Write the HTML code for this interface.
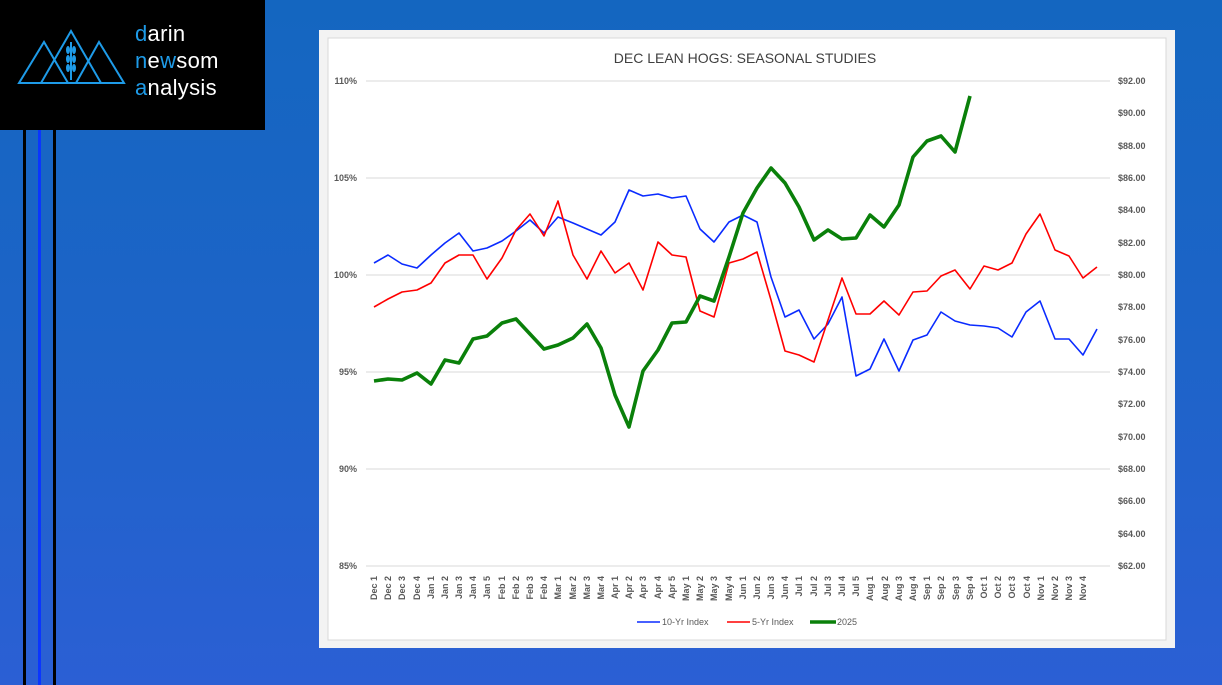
<!DOCTYPE html>
<html><head><meta charset="utf-8"><style>
html,body{margin:0;padding:0}
body{width:1222px;height:685px;overflow:hidden;position:relative;background:linear-gradient(180deg,#1466c0 0%,#1d64c8 50%,#2b5fd4 100%);font-family:"Liberation Sans",sans-serif}
.logo{position:absolute;left:0;top:0;width:265px;height:130px;background:#000}
.logo .t{position:absolute;left:135px;top:20px;color:#fff;font-size:22px;line-height:27px;letter-spacing:0.3px}
.b{color:#1e9be8}
.v{position:absolute;top:130px;height:555px}
</style></head><body>
<div class="logo">
<svg width="135" height="100" style="position:absolute;left:0;top:0">
<g fill="none" stroke="#1e9be8" stroke-width="2">
<polygon points="19,83 44,42 68,83"/><polygon points="41,83 71,31 101,83"/><polygon points="76,83 99,42 124,83"/>
<line x1="71" y1="42" x2="71" y2="80"/>
</g>
<g fill="#1e9be8"><ellipse cx="68" cy="50" rx="2" ry="4"/><ellipse cx="74" cy="50" rx="2" ry="4"/><ellipse cx="68" cy="59" rx="2" ry="4"/><ellipse cx="74" cy="59" rx="2" ry="4"/><ellipse cx="68" cy="68" rx="2" ry="4"/><ellipse cx="74" cy="68" rx="2" ry="4"/></g>
</svg>
<div class="t"><span class="b">d</span>arin<br><span class="b">n</span>e<span class="b">w</span>som<br><span class="b">a</span>nalysis</div>
</div>
<div class="v" style="left:23px;width:3px;background:#000"></div>
<div class="v" style="left:38px;width:3px;background:#0a35ff"></div>
<div class="v" style="left:53px;width:3px;background:#000"></div>

<svg width="1222" height="685" style="position:absolute;left:0;top:0">
<rect x="319" y="30" width="856" height="618" fill="#f3f3f3"/>
<rect x="328" y="38" width="838" height="602" fill="#fff" stroke="#d9d9d9"/>
<text x="745" y="63" font-size="14" fill="#404040" text-anchor="middle" font-family="Liberation Sans">DEC LEAN HOGS: SEASONAL STUDIES</text>
<g stroke="#d9d9d9" stroke-width="1">
<line x1="366" x2="1110" y1="81" y2="81"/><line x1="366" x2="1110" y1="178" y2="178"/><line x1="366" x2="1110" y1="275" y2="275"/><line x1="366" x2="1110" y1="372" y2="372"/><line x1="366" x2="1110" y1="469" y2="469"/><line x1="366" x2="1110" y1="566" y2="566"/>
</g>
<g font-size="9" font-weight="bold" fill="#595959" text-anchor="end">
<text x="357" y="84">110%</text><text x="357" y="181">105%</text><text x="357" y="278">100%</text><text x="357" y="375">95%</text><text x="357" y="472">90%</text><text x="357" y="569">85%</text>
</g>
<g font-size="9" font-weight="bold" fill="#595959">
<text x="1118" y="84">$92.00</text><text x="1118" y="116">$90.00</text><text x="1118" y="149">$88.00</text><text x="1118" y="181">$86.00</text><text x="1118" y="213">$84.00</text><text x="1118" y="246">$82.00</text><text x="1118" y="278">$80.00</text><text x="1118" y="310">$78.00</text><text x="1118" y="343">$76.00</text><text x="1118" y="375">$74.00</text><text x="1118" y="407">$72.00</text><text x="1118" y="440">$70.00</text><text x="1118" y="472">$68.00</text><text x="1118" y="504">$66.00</text><text x="1118" y="537">$64.00</text><text x="1118" y="569">$62.00</text>
</g>
<g font-size="9" font-weight="bold" fill="#595959" text-anchor="end">
<text transform="translate(377,576) rotate(-90)">Dec 1</text>
<text transform="translate(391,576) rotate(-90)">Dec 2</text>
<text transform="translate(405,576) rotate(-90)">Dec 3</text>
<text transform="translate(420,576) rotate(-90)">Dec 4</text>
<text transform="translate(434,576) rotate(-90)">Jan 1</text>
<text transform="translate(448,576) rotate(-90)">Jan 2</text>
<text transform="translate(462,576) rotate(-90)">Jan 3</text>
<text transform="translate(476,576) rotate(-90)">Jan 4</text>
<text transform="translate(490,576) rotate(-90)">Jan 5</text>
<text transform="translate(505,576) rotate(-90)">Feb 1</text>
<text transform="translate(519,576) rotate(-90)">Feb 2</text>
<text transform="translate(533,576) rotate(-90)">Feb 3</text>
<text transform="translate(547,576) rotate(-90)">Feb 4</text>
<text transform="translate(561,576) rotate(-90)">Mar 1</text>
<text transform="translate(576,576) rotate(-90)">Mar 2</text>
<text transform="translate(590,576) rotate(-90)">Mar 3</text>
<text transform="translate(604,576) rotate(-90)">Mar 4</text>
<text transform="translate(618,576) rotate(-90)">Apr 1</text>
<text transform="translate(632,576) rotate(-90)">Apr 2</text>
<text transform="translate(646,576) rotate(-90)">Apr 3</text>
<text transform="translate(661,576) rotate(-90)">Apr 4</text>
<text transform="translate(675,576) rotate(-90)">Apr 5</text>
<text transform="translate(689,576) rotate(-90)">May 1</text>
<text transform="translate(703,576) rotate(-90)">May 2</text>
<text transform="translate(717,576) rotate(-90)">May 3</text>
<text transform="translate(732,576) rotate(-90)">May 4</text>
<text transform="translate(746,576) rotate(-90)">Jun 1</text>
<text transform="translate(760,576) rotate(-90)">Jun 2</text>
<text transform="translate(774,576) rotate(-90)">Jun 3</text>
<text transform="translate(788,576) rotate(-90)">Jun 4</text>
<text transform="translate(802,576) rotate(-90)">Jul 1</text>
<text transform="translate(817,576) rotate(-90)">Jul 2</text>
<text transform="translate(831,576) rotate(-90)">Jul 3</text>
<text transform="translate(845,576) rotate(-90)">Jul 4</text>
<text transform="translate(859,576) rotate(-90)">Jul 5</text>
<text transform="translate(873,576) rotate(-90)">Aug 1</text>
<text transform="translate(888,576) rotate(-90)">Aug 2</text>
<text transform="translate(902,576) rotate(-90)">Aug 3</text>
<text transform="translate(916,576) rotate(-90)">Aug 4</text>
<text transform="translate(930,576) rotate(-90)">Sep 1</text>
<text transform="translate(944,576) rotate(-90)">Sep 2</text>
<text transform="translate(959,576) rotate(-90)">Sep 3</text>
<text transform="translate(973,576) rotate(-90)">Sep 4</text>
<text transform="translate(987,576) rotate(-90)">Oct 1</text>
<text transform="translate(1001,576) rotate(-90)">Oct 2</text>
<text transform="translate(1015,576) rotate(-90)">Oct 3</text>
<text transform="translate(1030,576) rotate(-90)">Oct 4</text>
<text transform="translate(1044,576) rotate(-90)">Nov 1</text>
<text transform="translate(1058,576) rotate(-90)">Nov 2</text>
<text transform="translate(1072,576) rotate(-90)">Nov 3</text>
<text transform="translate(1086,576) rotate(-90)">Nov 4</text>
</g>
<polyline fill="none" stroke="#0a2bff" stroke-width="1.6" stroke-linejoin="round" points="374,263 388,255 402,264 417,268 431,255 445,243 459,233 473,251 487,248 502,241 516,231 530,220 544,233 558,217 573,223 587,229 601,235 615,222 629,190 643,196 658,194 672,198 686,196 700,229 714,242 729,222 743,215 757,222 771,277 785,317 799,310 814,339 828,324 842,297 856,376 870,369 884,339 899,371 913,340 927,335 941,312 955,321 970,325 984,326 998,328 1012,337 1026,312 1040,301 1055,339 1069,339 1083,355 1097,329"/>
<polyline fill="none" stroke="#ff0000" stroke-width="1.6" stroke-linejoin="round" points="374,307 388,299 402,292 417,290 431,283 445,263 459,255 473,255 487,279 502,258 516,230 530,214 544,236 558,201 573,255 587,279 601,251 615,273 629,263 643,290 658,242 672,255 686,257 700,311 714,317 729,263 743,259 757,252 771,300 785,351 799,355 814,362 828,320 842,278 856,314 870,314 884,301 899,315 913,292 927,291 941,276 955,270 970,289 984,266 998,270 1012,263 1026,234 1040,214 1055,250 1069,256 1083,278 1097,267"/>
<polyline fill="none" stroke="#0a800a" stroke-width="3.6" stroke-linejoin="round" points="374,381 388,379 402,380 417,373 431,384 445,360 459,363 473,339 487,336 502,323 516,319 530,334 544,349 558,345 573,338 587,324 601,348 615,395 629,427 643,371 658,350 672,323 686,322 700,296 714,301 729,257 743,213 757,188 771,168 785,183 799,207 814,240 828,230 842,239 856,238 870,215 884,227 899,205 913,157 927,141 941,136 955,152 970,96"/>
<g font-size="9" fill="#595959">
<line x1="637" x2="660" y1="622" y2="622" stroke="#0a2bff" stroke-width="1.6"/><text x="662" y="625">10-Yr Index</text>
<line x1="727" x2="750" y1="622" y2="622" stroke="#ff0000" stroke-width="1.6"/><text x="752" y="625">5-Yr Index</text>
<line x1="810" x2="836" y1="622" y2="622" stroke="#0a800a" stroke-width="3.6"/><text x="837" y="625">2025</text>
</g>
</svg>
</body></html>
